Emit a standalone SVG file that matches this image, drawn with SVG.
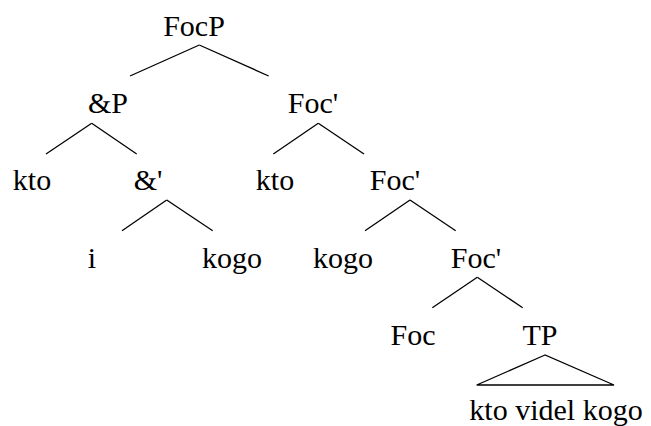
<svg xmlns="http://www.w3.org/2000/svg" width="651" height="426" viewBox="0 0 651 426">
<style>
.e line,.e polygon{stroke:#000;stroke-width:1.3;fill:none}
</style>
<rect width="651" height="426" fill="#fff"/>
<g class="e" id="connectors">
<line x1="199.3" y1="45" x2="130" y2="76"/>
<line x1="199.3" y1="45" x2="268.7" y2="76"/>
<line x1="91.7" y1="123.3" x2="46" y2="154"/>
<line x1="91.7" y1="123.3" x2="136.7" y2="154"/>
<line x1="318.3" y1="123.3" x2="273.3" y2="154"/>
<line x1="318.3" y1="123.3" x2="364" y2="154"/>
<line x1="166.7" y1="200" x2="122" y2="230.7"/>
<line x1="166.7" y1="200" x2="212.7" y2="230.7"/>
<line x1="410" y1="200" x2="365" y2="230.7"/>
<line x1="410" y1="200" x2="455.7" y2="230.7"/>
<line x1="477.3" y1="277.3" x2="432.3" y2="307.7"/>
<line x1="477.3" y1="277.3" x2="522.7" y2="307.7"/>
<polygon points="545,355 476.7,385 614,385"/>
</g>
<g font-family="Liberation Serif, DejaVu Serif, serif" font-size="30" fill="#000" text-anchor="middle">
<g id="n-FocP"><text x="194" y="36">FocP</text></g>
<g id="n-andP"><text x="108" y="113">&amp;P</text></g>
<g id="n-Focbar1"><text x="313" y="113">Foc'</text></g>
<g id="n-kto1"><text x="32" y="190">kto</text></g>
<g id="n-andbar"><text x="148" y="190">&amp;'</text></g>
<g id="n-kto2"><text x="275" y="190">kto</text></g>
<g id="n-Focbar2"><text x="395" y="190">Foc'</text></g>
<g id="n-i"><text x="92" y="268">i</text></g>
<g id="n-kogo1"><text x="232" y="268">kogo</text></g>
<g id="n-kogo2"><text x="343" y="268">kogo</text></g>
<g id="n-Focbar3"><text x="476" y="268">Foc'</text></g>
<g id="n-Foc"><text x="413" y="345">Foc</text></g>
<g id="n-TP"><text x="540" y="345">TP</text></g>
<g id="n-TPyield"><text x="556" y="420">kto videl kogo</text></g>
</g>
</svg>
